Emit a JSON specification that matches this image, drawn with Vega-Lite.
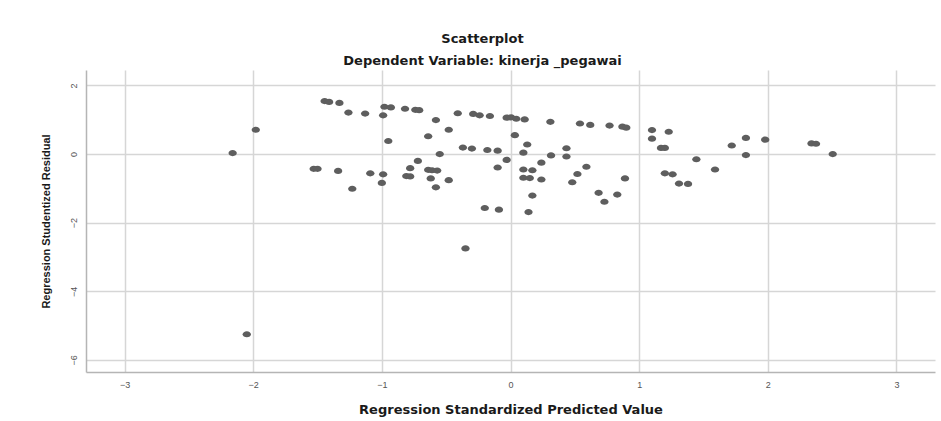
{
  "$schema": "https://vega.github.io/schema/vega-lite/v6.json",
  "autosize": {"type": "none"},
  "padding": {"left": 86, "top": 70, "right": 6, "bottom": 49},
  "width": 849,
  "height": 302,
  "background": "white",
  "title": {
    "text": "Scatterplot",
    "subtitle": "Dependent Variable: kinerja _pegawai",
    "anchor": "middle",
    "frame": "group",
    "dx": -28,
    "offset": 2,
    "font": "DejaVu Sans",
    "fontSize": 13,
    "fontWeight": "bold",
    "color": "#1a1a1a",
    "subtitleFont": "DejaVu Sans",
    "subtitleFontSize": 13,
    "subtitleFontWeight": "bold",
    "subtitleColor": "#1a1a1a",
    "subtitlePadding": 9
  },
  "config": {
    "view": {"stroke": null},
    "axis": {
      "gridColor": "#d6d6d6",
      "gridWidth": 1.5,
      "domainColor": "#b5b5b5",
      "domainWidth": 1.5,
      "ticks": false,
      "labelFont": "Liberation Sans",
      "labelFontSize": 9,
      "labelColor": "#555555",
      "titleColor": "#1a1a1a"
    }
  },
  "data": {
    "values": [
      {"x": -2.16, "y": 0.03}, {"x": -1.98, "y": 0.71}, {"x": -2.05, "y": -5.25},
      {"x": -1.445, "y": 1.545}, {"x": -1.41, "y": 1.52}, {"x": -1.33, "y": 1.49},
      {"x": -1.26, "y": 1.21}, {"x": -1.13, "y": 1.18}, {"x": -1.53, "y": -0.43},
      {"x": -1.5, "y": -0.43}, {"x": -1.34, "y": -0.49}, {"x": -1.09, "y": -0.56},
      {"x": -1.23, "y": -1.01}, {"x": -0.98, "y": 1.38}, {"x": -0.93, "y": 1.36},
      {"x": -0.99, "y": 1.13}, {"x": -0.82, "y": 1.32}, {"x": -0.74, "y": 1.29},
      {"x": -0.71, "y": 1.28}, {"x": -0.58, "y": 0.99}, {"x": -0.41, "y": 1.19},
      {"x": -0.29, "y": 1.17}, {"x": -0.24, "y": 1.13}, {"x": -0.16, "y": 1.11},
      {"x": -0.03, "y": 1.06}, {"x": 0.005, "y": 1.07}, {"x": 0.045, "y": 1.03},
      {"x": 0.11, "y": 1.01}, {"x": 0.31, "y": 0.94}, {"x": 0.54, "y": 0.89},
      {"x": 0.62, "y": 0.85}, {"x": 0.77, "y": 0.83}, {"x": 0.87, "y": 0.8},
      {"x": 0.9, "y": 0.77}, {"x": 1.1, "y": 0.7}, {"x": 1.23, "y": 0.65},
      {"x": 1.1, "y": 0.45}, {"x": 1.17, "y": 0.18}, {"x": 1.2, "y": 0.18},
      {"x": -0.95, "y": 0.38}, {"x": -0.64, "y": 0.52}, {"x": -0.48, "y": 0.71},
      {"x": 0.034, "y": 0.55}, {"x": 0.13, "y": 0.28}, {"x": -0.37, "y": 0.19},
      {"x": -0.3, "y": 0.16}, {"x": -0.18, "y": 0.12}, {"x": -0.1, "y": 0.1},
      {"x": -0.55, "y": 0.0}, {"x": 0.1, "y": 0.04}, {"x": 0.435, "y": 0.17},
      {"x": 0.435, "y": -0.07}, {"x": 0.315, "y": -0.04}, {"x": -0.03, "y": -0.17},
      {"x": 0.24, "y": -0.25}, {"x": -0.72, "y": -0.2}, {"x": -0.78, "y": -0.41},
      {"x": -0.1, "y": -0.39}, {"x": 0.59, "y": -0.37}, {"x": -0.99, "y": -0.59},
      {"x": -1.0, "y": -0.84}, {"x": -0.81, "y": -0.64}, {"x": -0.78, "y": -0.65},
      {"x": -0.64, "y": -0.46}, {"x": -0.61, "y": -0.47}, {"x": -0.57, "y": -0.48},
      {"x": -0.62, "y": -0.71}, {"x": -0.48, "y": -0.76}, {"x": -0.58, "y": -0.97},
      {"x": 0.1, "y": -0.45}, {"x": 0.17, "y": -0.47}, {"x": 0.1, "y": -0.69},
      {"x": 0.15, "y": -0.7}, {"x": 0.24, "y": -0.74}, {"x": 0.52, "y": -0.58},
      {"x": 0.48, "y": -0.82}, {"x": 0.89, "y": -0.71}, {"x": 0.17, "y": -1.21},
      {"x": 0.685, "y": -1.13}, {"x": 0.73, "y": -1.39}, {"x": 0.83, "y": -1.18},
      {"x": -0.2, "y": -1.57}, {"x": -0.09, "y": -1.62}, {"x": 0.14, "y": -1.69},
      {"x": -0.35, "y": -2.75}, {"x": 1.2, "y": -0.56}, {"x": 1.26, "y": -0.59},
      {"x": 1.31, "y": -0.86}, {"x": 1.38, "y": -0.87}, {"x": 1.445, "y": -0.15},
      {"x": 1.59, "y": -0.45}, {"x": 1.72, "y": 0.25}, {"x": 1.83, "y": 0.47},
      {"x": 1.83, "y": -0.03}, {"x": 1.98, "y": 0.42}, {"x": 2.34, "y": 0.31},
      {"x": 2.375, "y": 0.3}, {"x": 2.505, "y": 0.0}
    ]
  },
  "mark": {
    "type": "point",
    "filled": true,
    "shape": "M-1.35,0A1.35,1,0,1,1,1.35,0A1.35,1,0,1,1,-1.35,0Z",
    "size": 38,
    "color": "#5e5e5e",
    "opacity": 1
  },
  "encoding": {
    "x": {
      "field": "x",
      "type": "quantitative",
      "scale": {"domain": [-3.3, 3.3], "nice": false, "zero": false},
      "axis": {
        "values": [-3, -2, -1, 0, 1, 2, 3],
        "title": "Regression Standardized Predicted Value",
        "titleFont": "DejaVu Sans",
        "titleFontSize": 13,
        "titleFontWeight": "bold",
        "labelPadding": 8,
        "titlePadding": 14
      }
    },
    "y": {
      "field": "y",
      "type": "quantitative",
      "scale": {"domain": [-6.35, 2.45], "nice": false, "zero": false},
      "axis": {
        "values": [-6, -4, -2, 0, 2],
        "title": "Regression Studentized Residual",
        "titleFont": "Liberation Sans",
        "titleFontSize": 11,
        "titleFontWeight": "bold",
        "labelAngle": -90,
        "labelAlign": "center",
        "labelBaseline": "bottom",
        "labelPadding": 8,
        "titlePadding": 18
      }
    }
  }
}
